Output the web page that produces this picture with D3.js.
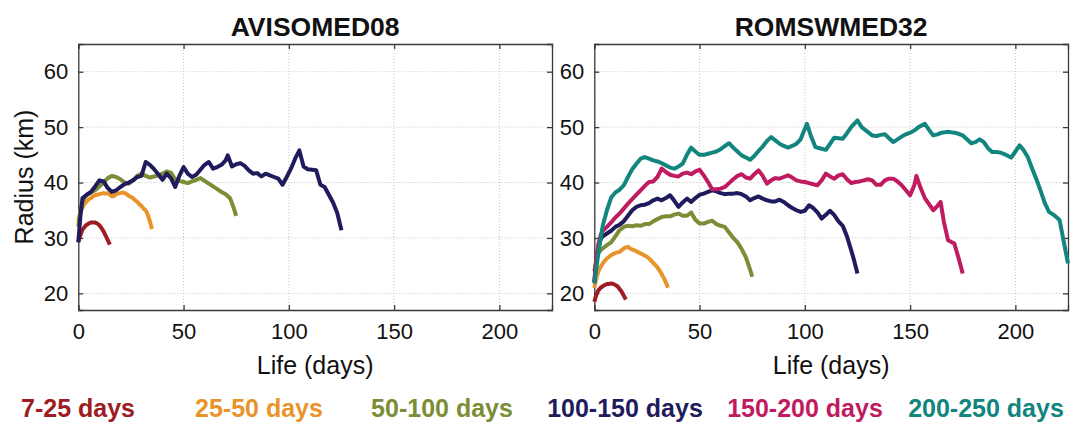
<!DOCTYPE html>
<html>
<head>
<meta charset="utf-8">
<script src="https://cdn.jsdelivr.net/npm/d3@7"></script>
<style>
	body { margin: 0; background: #fff; }
	svg { display: block; font-family: "Liberation Sans", Arial, sans-serif; }
</style>
</head>
<body>
<div id="chart"></div>
<script>
var groupNames = ["7-25 days", "25-50 days", "50-100 days", "100-150 days", "150-200 days", "200-250 days"];
var groupColors = ["#9e1c23", "#e9942b", "#7b8d36", "#1f1b5c", "#c01b60", "#12857f"];
var panelTitles = ["AVISOMED08", "ROMSWMED32"];
var xTicks = [0, 50, 100, 150, 200];
var yTicks = [20, 30, 40, 50, 60];

// AVISOMED08 : [life (days), radius (km)]
var aviso7to25 = [[0,29.3],[1,30.5],[2,31.5],[3,32],[4,32.4],[5,32.6],[6,32.8],[7,32.8],[8,32.8],[9,32.6],[10,32.3],[11,31.8],[12,31.2],[13,30.4],[14,29.6],[15,28.8]];
var aviso25to50 = [[0,33],[1,34.5],[2,35.5],[3,36.2],[4,36.6],[5,37],[6,37.2],[7,37.5],[8,37.7],[9,37.8],[10,37.9],[11,38],[12,38.1],[13,38],[14,38.1],[15,37.8],[16,37.5],[17,37.6],[18,37.9],[19,38],[20,38.1],[21,38.2],[22,38.1],[23,37.9],[24,37.6],[25,37.4],[26,37.2],[27,36.8],[28,36.5],[29,36.1],[30,35.8],[31,35.3],[32,35],[33,34.2],[34,33],[35,31.6]];
var aviso50to100 = [[0,32],[1,35],[2,36.5],[3,37.3],[4,37.8],[6,38.2],[8,38.6],[10,39.3],[12,40],[14,40.8],[16,41.2],[18,41],[20,40.6],[22,40],[24,39.8],[26,40.4],[28,41.2],[30,41.6],[32,41.2],[34,40.9],[36,41.1],[38,41.3],[40,41.6],[42,42],[44,41.8],[46,40.6],[48,40.3],[50,40.1],[52,39.9],[54,40.2],[56,40.5],[58,40.8],[60,40.3],[62,39.8],[64,39.3],[66,38.8],[68,38.3],[70,37.9],[72,37.2],[73,36.3],[74,35.2],[75,34]];
var aviso100to150 = [[0,29.2],[1,34],[2,37.2],[4,37.8],[6,38.3],[8,39.3],[10,40.4],[12,40.2],[14,39],[16,38.3],[18,38.6],[20,39.2],[22,39.7],[24,40],[26,40.4],[28,41],[30,41.2],[32,43.7],[34,43.2],[36,42.4],[38,41.5],[40,40.5],[42,41.6],[44,40.8],[46,39.2],[48,41.2],[50,42.8],[52,41.6],[54,41],[56,41.4],[58,42.3],[60,43.2],[62,43.7],[64,42.5],[66,42.8],[68,43.2],[70,44],[71,44.9],[73,42.9],[75,43.3],[77,43.5],[79,43],[81,42.2],[83,41.6],[85,41.7],[87,41.1],[89,41.6],[91,41.3],[93,41],[95,40.7],[97,39.6],[99,41],[101,42.5],[103,44.3],[105,45.8],[107,42.9],[109,42.4],[111,42.3],[113,42.2],[115,39.6],[117,39.2],[119,37.8],[121,36.4],[123,34.5],[125,31.4]];

// ROMSWMED32 : [life (days), radius (km)]
var roms7to25 = [[0,18.5],[1,19.8],[2,20.6],[3,21],[4,21.3],[5,21.5],[6,21.7],[7,21.7],[8,21.8],[9,21.7],[10,21.5],[11,21.3],[12,20.8],[13,20.3],[14,19.6],[15,18.9]];
var roms25to50 = [[0,21],[1,22.8],[2,24],[3,24.8],[4,25.4],[5,25.9],[6,26.3],[7,26.6],[8,26.9],[9,27.1],[10,27.3],[11,27.4],[12,27.5],[13,27.8],[14,28.1],[15,28.3],[16,28.4],[17,28.1],[18,27.9],[19,27.8],[20,27.6],[21,27.4],[22,27.2],[23,27],[24,26.8],[25,26.6],[26,26.3],[27,25.9],[28,25.5],[29,25.1],[30,24.7],[31,24.1],[32,23.5],[33,22.8],[34,22],[35,21]];
var roms50to100 = [[0,24],[1,26],[2,27.3],[3,27.8],[4,28.1],[6,28.7],[8,29.2],[10,30.3],[12,31.4],[14,32],[16,32.2],[18,32.1],[20,32.3],[22,32.2],[24,32.5],[26,32.5],[28,33],[30,33.4],[32,33.8],[34,33.9],[36,33.9],[38,34.2],[40,34.4],[42,34],[44,34],[46,34.6],[48,33.3],[50,32.6],[52,32.6],[54,32.9],[56,33.1],[58,32.5],[60,32.2],[62,32],[64,31],[66,30],[68,29.2],[70,28],[72,26.5],[74,24.3],[75,23]];
var roms100to150 = [[0,22],[1,26],[2,28.5],[3,29.8],[4,30.3],[6,30.8],[8,31.3],[10,32],[12,32.4],[14,33],[16,34],[18,35],[20,35.6],[22,35.9],[24,36],[26,36.3],[28,36.8],[30,37.1],[32,36.8],[34,37.2],[36,37.7],[38,36.7],[40,35.6],[42,36.4],[44,37.1],[46,36.5],[48,37.2],[50,37.8],[52,38],[54,38.3],[56,38.6],[58,38.4],[60,38.1],[62,37.9],[64,38],[66,38],[68,38.1],[70,37.9],[72,37.5],[74,36.8],[76,37.2],[78,37.5],[80,37.1],[82,36.8],[84,36.6],[86,36.6],[88,36.9],[90,36.5],[92,35.9],[94,35.4],[96,35],[98,34.7],[100,34.9],[102,35.9],[104,35.4],[106,34.6],[108,33.5],[110,34.2],[112,34.9],[114,34.1],[116,33],[118,32.2],[120,30.3],[122,27.8],[123,26.5],[125,23.6]];
var roms150to200 = [[0,22],[1,26.5],[2,29],[3,30.5],[4,31.3],[6,32],[8,32.8],[10,33.7],[12,34.4],[14,35.3],[16,36.2],[18,37],[20,37.8],[22,38.6],[24,39.4],[26,40.1],[28,40.2],[30,41],[32,42.5],[34,41.9],[36,41.4],[38,41.2],[40,41.1],[42,41.6],[44,41.8],[46,41.5],[48,42],[50,42.3],[52,41.3],[54,40.1],[56,38.8],[58,38.8],[60,38.9],[62,39.2],[64,39.9],[66,40.6],[68,41.2],[70,41.5],[72,40.9],[74,40.7],[76,41.5],[78,42.2],[80,41.2],[82,39.8],[84,40.4],[86,40.8],[88,40.7],[90,41],[92,41.3],[94,40.9],[96,40.4],[98,40.2],[100,40.1],[102,39.9],[104,39.7],[106,39.5],[108,40.4],[110,41.6],[112,41.1],[114,40.7],[116,41.3],[118,41.5],[120,40.6],[122,39.9],[124,40.1],[126,40.2],[128,40.4],[130,40.6],[132,40.4],[134,39.6],[136,39.6],[138,40.4],[140,40.7],[142,40.7],[144,40.2],[146,39.5],[148,38.6],[150,37.7],[152,39.5],[153,41.2],[155,39],[157,37.2],[159,36.1],[161,35],[163,35.8],[164.5,36.5],[166,33],[168,29.6],[171,29],[173,26.4],[175,23.6]];
var roms200to250 = [[0,21.8],[2,27.5],[4,32.2],[6,35],[8,37.3],[10,38.2],[12,38.7],[14,39.5],[16,41],[18,42.4],[20,43.4],[22,44.3],[24,44.6],[26,44.3],[28,44],[30,43.8],[32,43.5],[34,43.1],[36,42.7],[38,42.5],[40,42.9],[42,43.4],[44,45],[46,46.3],[48,45.6],[50,45],[52,45],[54,45.2],[56,45.4],[58,45.6],[60,46],[62,46.6],[64,47.1],[66,46.3],[68,45.6],[70,44.9],[72,44.5],[74,44.1],[76,44.8],[78,45.7],[80,46.5],[82,47.5],[84,48.2],[86,47.6],[88,47],[90,46.6],[92,46.3],[94,46.6],[96,47],[98,47.8],[101,50.6],[103,48.3],[105,46.4],[108,46.1],[110,45.9],[112,47],[114,48.1],[116,48],[118,47.9],[120,48.9],[122,50],[125,51.2],[127,50],[130,49.1],[132,48.5],[134,48.4],[136,48.6],[138,48.7],[140,48],[142,47.3],[144,47.8],[146,48.3],[148,48.7],[150,49],[152,49.4],[154,50],[157,50.6],[159,49.5],[161,48.5],[163,48.7],[165,49],[167,49.1],[169,49.1],[171,49],[173,48.8],[175,48.5],[177,47.8],[179,47.1],[181,47.3],[183,47.8],[185,47.3],[187,46.2],[189,45.5],[191,45.5],[193,45.4],[195,45.1],[197,44.7],[198,44.5],[200,45.6],[202,46.7],[204,45.8],[206,44.5],[208,42.5],[210,40.6],[212,38.5],[214,36.3],[216,34.7],[218,34.2],[220,33.6],[221,33.2],[223,29.3],[225,25.4]];

var avisoSeries = [aviso7to25, aviso25to50, aviso50to100, aviso100to150];
var romsSeries = [roms7to25, roms25to50, roms50to100, roms100to150, roms150to200, roms200to250];

var width = 1070,
	height = 422,
	plotTop = 44,
	plotBottom = 310,
	panelLefts = [78.3, 594.3],
	panelWidth = 473.7,
	legendCenters = [78, 259, 442, 625, 805, 986];

var svg = d3.select("#chart")
	.append("svg")
	.attr("width", width)
	.attr("height", height);

function drawPanel(index, seriesList) {
	var left = panelLefts[index],
		x = d3.scaleLinear().domain([0, 225]).range([left, left + panelWidth]),
		y = d3.scaleLinear().domain([17, 65]).range([plotBottom, plotTop]),
		g = svg.append("g");

	// dotted grid
	g.append("g")
		.selectAll("line")
		.data(xTicks)
		.enter()
		.append("line")
		.attr("x1", function(d) { return x(d); })
		.attr("x2", function(d) { return x(d); })
		.attr("y1", plotTop)
		.attr("y2", plotBottom)
		.attr("stroke", "#c4c4c4")
		.attr("stroke-width", 1)
		.attr("stroke-dasharray", "1,2");
	g.append("g")
		.selectAll("line")
		.data(yTicks)
		.enter()
		.append("line")
		.attr("x1", left)
		.attr("x2", left + panelWidth)
		.attr("y1", function(d) { return y(d); })
		.attr("y2", function(d) { return y(d); })
		.attr("stroke", "#c4c4c4")
		.attr("stroke-width", 1)
		.attr("stroke-dasharray", "1,2");

	// box axes with inward ticks on all sides
	var bottomAxis = d3.axisBottom(x).tickValues(xTicks).tickSize(-5).tickPadding(13),
		topAxis = d3.axisTop(x).tickValues(xTicks).tickSize(-5).tickFormat(""),
		leftAxis = d3.axisLeft(y).tickValues(yTicks).tickSize(-5).tickPadding(10),
		rightAxis = d3.axisRight(y).tickValues(yTicks).tickSize(-5).tickFormat("");

	g.append("g").attr("class", "axis").attr("transform", "translate(0," + plotBottom + ")").call(bottomAxis);
	g.append("g").attr("class", "axis").attr("transform", "translate(0," + plotTop + ")").call(topAxis);
	g.append("g").attr("class", "axis").attr("transform", "translate(" + left + ",0)").call(leftAxis);
	g.append("g").attr("class", "axis").attr("transform", "translate(" + (left + panelWidth) + ",0)").call(rightAxis);

	g.selectAll(".axis path").attr("stroke", "#3a3a3a").attr("stroke-width", 1.3);
	g.selectAll(".axis line").attr("stroke", "#3a3a3a").attr("stroke-width", 1.3);
	g.selectAll(".axis text")
		.attr("fill", "#111")
		.style("font-size", "22px")
		.style("font-family", "'Liberation Sans', Arial, sans-serif");

	// curves
	var line = d3.line()
		.x(function(d) { return x(d[0]); })
		.y(function(d) { return y(d[1]); });

	g.append("g")
		.selectAll("path")
		.data(seriesList)
		.enter()
		.append("path")
		.attr("d", line)
		.attr("fill", "none")
		.attr("stroke", function(d, i) { return groupColors[i]; })
		.attr("stroke-width", 4)
		.attr("stroke-linejoin", "round");

	// labels
	svg.append("text")
		.attr("x", left + panelWidth / 2)
		.attr("y", 36)
		.attr("text-anchor", "middle")
		.style("font-size", "26.5px")
		.style("font-weight", "bold")
		.attr("fill", "#111")
		.text(panelTitles[index]);

	svg.append("text")
		.attr("x", left + panelWidth / 2)
		.attr("y", 374)
		.attr("text-anchor", "middle")
		.style("font-size", "25px")
		.attr("fill", "#111")
		.text("Life (days)");
}

drawPanel(0, avisoSeries);
drawPanel(1, romsSeries);

svg.append("text")
	.attr("transform", "translate(33," + ((plotTop + plotBottom) / 2) + ") rotate(-90)")
	.attr("text-anchor", "middle")
	.style("font-size", "25px")
	.attr("fill", "#111")
	.text("Radius (km)");

svg.append("g")
	.selectAll("text")
	.data(groupNames)
	.enter()
	.append("text")
	.attr("x", function(d, i) { return legendCenters[i]; })
	.attr("y", 417)
	.attr("text-anchor", "middle")
	.style("font-size", "25px")
	.style("font-weight", "bold")
	.attr("fill", function(d, i) { return groupColors[i]; })
	.text(function(d) { return d; });
</script>
</body>
</html>
